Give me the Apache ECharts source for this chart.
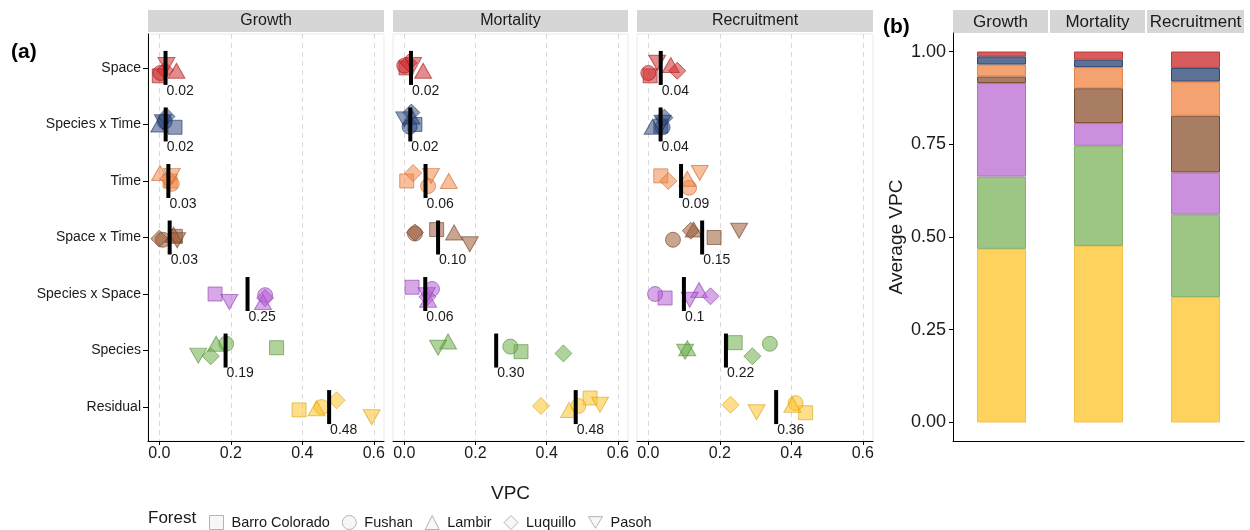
<!DOCTYPE html>
<html><head><meta charset="utf-8">
<script src="https://cdn.jsdelivr.net/npm/echarts@6/dist/echarts.min.js"></script>
<style>html,body{margin:0;padding:0;background:#fff}#c{width:1250px;height:530px}</style>
</head><body><div id="c"></div>
<script>
// ---------------- DATA ----------------
const components = ['Space', 'Species x Time', 'Time', 'Space x Time', 'Species x Space', 'Species', 'Residual'];
const responses = ['Growth', 'Mortality', 'Recruitment'];
const forests = ['Barro Colorado', 'Fushan', 'Lambir', 'Luquillo', 'Pasoh'];

// VPC per component (rows) and forest (columns: BCI, Fushan, Lambir, Luquillo, Pasoh)
const growthVPC = [
  [0.000, 0.003, 0.048, 0.016, 0.020],
  [0.044, 0.015, 0.000, 0.020, 0.010],
  [0.030, 0.035, 0.002, 0.025, 0.035],
  [0.045, 0.010, 0.040, 0.000, 0.050],
  [0.156, 0.296, 0.290, 0.296, 0.196],
  [0.328, 0.187, 0.159, 0.144, 0.109],
  [0.391, 0.454, 0.440, 0.496, 0.594]
];
const mortalityVPC = [
  [0.005, 0.000, 0.053, 0.012, 0.025],
  [0.030, 0.015, 0.020, 0.020, 0.000],
  [0.007, 0.067, 0.125, 0.025, 0.075],
  [0.091, 0.030, 0.140, 0.030, 0.184],
  [0.022, 0.078, 0.067, 0.065, 0.063],
  [0.328, 0.298, 0.123, 0.447, 0.095],
  [0.522, 0.489, 0.463, 0.384, 0.550]
];
const recruitmentVPC = [
  [0.005, 0.000, 0.063, 0.081, 0.025],
  [0.035, 0.040, 0.012, 0.045, 0.040],
  [0.035, 0.114, 0.109, 0.056, 0.144],
  [0.184, 0.069, 0.127, 0.119, 0.254],
  [0.047, 0.019, 0.142, 0.174, 0.116],
  [0.243, 0.340, 0.109, 0.291, 0.103],
  [0.440, 0.412, 0.403, 0.230, 0.303]
];
// vertical jitter of each point (category units)
const growthJitter = [
  [0.14, 0.09, 0.05, 0.04, -0.05],
  [0.05, -0.05, 0.00, -0.14, -0.04],
  [0.00, 0.05, -0.14, -0.04, -0.09],
  [-0.02, 0.04, -0.05, 0.02, 0.05],
  [0.00, 0.02, 0.14, 0.07, 0.14],
  [-0.05, -0.12, -0.12, 0.10, 0.09],
  [0.05, 0.00, 0.02, -0.12, 0.18]
];
const mortalityJitter = [
  [0.00, -0.04, 0.05, -0.09, -0.05],
  [0.00, 0.04, -0.14, -0.21, -0.09],
  [0.00, 0.09, 0.00, -0.14, -0.09],
  [-0.14, -0.07, -0.09, -0.09, 0.12],
  [-0.12, -0.09, 0.10, 0.05, 0.02],
  [0.02, -0.07, -0.16, 0.05, -0.05],
  [-0.16, -0.02, 0.05, -0.02, -0.04]
];
const recruitmentJitter = [
  [0.14, 0.09, -0.05, 0.05, -0.09],
  [0.03, 0.05, 0.04, -0.12, -0.03],
  [-0.09, 0.12, -0.04, 0.00, -0.14],
  [0.00, 0.04, -0.14, -0.12, -0.12],
  [0.07, 0.00, -0.07, 0.04, 0.10],
  [-0.14, -0.12, -0.04, 0.10, 0.02],
  [0.10, -0.07, -0.04, -0.04, 0.09]
];
// printed mean labels
const growthLabels = ['0.02', '0.02', '0.03', '0.03', '0.25', '0.19', '0.48'];
const mortalityLabels = ['0.02', '0.02', '0.06', '0.10', '0.06', '0.30', '0.48'];
const recruitmentLabels = ['0.04', '0.04', '0.09', '0.15', '0.1', '0.22', '0.36'];

// panel (b): average VPC per component
const avgGrowth = [0.013, 0.022, 0.032, 0.018, 0.252, 0.195, 0.468];
const avgMortality = [0.022, 0.020, 0.057, 0.094, 0.061, 0.270, 0.476];
const avgRecruitment = [0.044, 0.037, 0.092, 0.153, 0.113, 0.223, 0.338];

const xTicks = [0, 0.2, 0.4, 0.6];
const yTicksB = [0, 0.25, 0.5, 0.75, 1];

// ---------------- STYLE ----------------
const FONT = '"Liberation Sans", Arial, Helvetica, sans-serif';
const TXT = '#1a1a1a';
const pointColors = ['#d02c2c', '#2d4a80', '#f08a4b', '#9a5a36', '#b660d6', '#6fae4c', '#fcc22b'];
const pointBorders = ['#a01818', '#1c3160', '#c86428', '#6e3c20', '#8a3aae', '#4e8a30', '#d8a010'];
const barColors = ['#d95b5b', '#5d7096', '#f4a26f', '#a97d64', '#cc8fde', '#9dc584', '#fed35d'];
const barBorders = ['#b83a3a', '#2f4470', '#e0844c', '#7a4a2c', '#b070c8', '#84b06a', '#f0c24a'];
const shapes = [
  { symbol: 'rect', size: 14, rot: 0 },
  { symbol: 'circle', size: 15, rot: 0 },
  { symbol: 'triangle', size: [17, 15], rot: 0 },
  { symbol: 'diamond', size: 17, rot: 0 },
  { symbol: 'triangle', size: [17, 15], rot: 180 }
];
const legendIcons = ['path://M0,0H10V10H0Z', 'circle', 'triangle', 'diamond', 'path://M0,0L12,0L6,10Z'];

function rgba(hex, a) {
  const n = parseInt(hex.slice(1), 16);
  return 'rgba(' + (n >> 16 & 255) + ',' + (n >> 8 & 255) + ',' + (n & 255) + ',' + a + ')';
}
function mean(arr) { return arr.reduce((s, v) => s + v, 0) / arr.length; }

const panelVals = [growthVPC, mortalityVPC, recruitmentVPC];
const panelJit = [growthJitter, mortalityJitter, recruitmentJitter];
const panelLabels = [growthLabels, mortalityLabels, recruitmentLabels];
const panelLeft = [148, 393, 637];
const panelWidth = [236, 235, 236];
const GTOP = 34, GH = 407;

const grids = [], xAxes = [], yAxes = [], series = [], graphics = [];

for (let p = 0; p < 3; p++) {
  grids.push({ left: panelLeft[p], top: GTOP, width: panelWidth[p], height: GH, show: true,
    borderColor: '#ebebeb', borderWidth: 1, backgroundColor: 'transparent', containLabel: false, outerBoundsMode: 'none' });
  xAxes.push({
    type: 'value', gridIndex: p, min: -0.0316, max: 0.6285,
    axisLine: { show: true, onZero: false, lineStyle: { color: '#000', width: 1 } },
    axisTick: { show: true, length: 4, customValues: xTicks, lineStyle: { color: '#000' } },
    axisLabel: { show: true, customValues: xTicks, formatter: v => v.toFixed(1), fontSize: 16, color: TXT, margin: 5, fontFamily: FONT },
    splitLine: { show: true, lineStyle: { color: '#d9d9d9', type: [5, 4], width: 1 } },
    name: p === 1 ? 'VPC' : '', nameLocation: 'middle', nameGap: 43,
    nameTextStyle: { fontSize: 19, color: TXT, fontFamily: FONT }
  });
  yAxes.push({
    type: 'value', gridIndex: p, inverse: true, min: -0.6, max: 6.6,
    axisLine: { show: p === 0, onZero: false, lineStyle: { color: '#000', width: 1 } },
    axisTick: { show: p === 0, length: 5, customValues: [0, 1, 2, 3, 4, 5, 6], lineStyle: { color: '#000' } },
    axisLabel: { show: p === 0, customValues: [0, 1, 2, 3, 4, 5, 6], formatter: v => components[Math.round(v)] || '',
      fontSize: 14, color: TXT, margin: 7, fontFamily: FONT },
    splitLine: { show: false }
  });
  // points
  for (let f = 0; f < 5; f++) {
    const sh = shapes[f];
    series.push({
      type: 'scatter', name: forests[f], xAxisIndex: p, yAxisIndex: p,
      symbol: sh.symbol, symbolSize: sh.size, symbolRotate: sh.rot, z: 2, silent: true,
      data: components.map((c, i) => ({
        value: [panelVals[p][i][f], i + panelJit[p][i][f]],
        itemStyle: { color: rgba(pointColors[i], 0.55), borderColor: rgba(pointBorders[i], 0.6), borderWidth: 1, opacity: 1 }
      }))
    });
  }
  // mean bars + labels
  series.push({
    type: 'scatter', xAxisIndex: p, yAxisIndex: p, symbol: 'rect', symbolSize: [4, 34], z: 5, silent: true,
    itemStyle: { color: '#000', opacity: 1 },
    label: { show: true, position: [3, 33], align: 'left', verticalAlign: 'top', fontSize: 14, color: TXT, fontFamily: FONT },
    data: components.map((c, i) => ({ value: [mean(panelVals[p][i]), i], label: { formatter: panelLabels[p][i] } }))
  });
  // strip
  graphics.push({ type: 'rect', shape: { x: panelLeft[p], y: 10, width: panelWidth[p], height: 22 }, style: { fill: '#d6d6d6' }, silent: true });
  graphics.push({ type: 'text', x: panelLeft[p] + panelWidth[p] / 2, y: 21,
    style: { text: responses[p], fontSize: 16, fill: TXT, align: 'center', verticalAlign: 'middle', fontFamily: FONT }, silent: true });
}

// panel (b)
grids.push({ left: 953, top: 33, width: 291, height: 408, containLabel: false, outerBoundsMode: 'none' });
xAxes.push({ type: 'category', gridIndex: 3, data: responses,
  axisLine: { show: true, onZero: false, lineStyle: { color: '#000' } }, axisTick: { show: false }, axisLabel: { show: false }, splitLine: { show: false } });
yAxes.push({ type: 'value', gridIndex: 3, min: -0.05, max: 1.05,
  axisLine: { show: true, onZero: false, lineStyle: { color: '#000' } },
  axisTick: { show: true, length: 4, customValues: yTicksB, lineStyle: { color: '#000' } },
  axisLabel: { show: true, customValues: yTicksB, formatter: v => v.toFixed(2), fontSize: 18, color: TXT, margin: 7, fontFamily: FONT },
  splitLine: { show: false },
  name: 'Average VPC', nameLocation: 'middle', nameRotate: 90, nameGap: 47,
  nameTextStyle: { fontSize: 19, color: TXT, fontFamily: FONT } });
const avgByResponse = [avgGrowth, avgMortality, avgRecruitment];
for (let i = components.length - 1; i >= 0; i--) {
  series.push({ type: 'bar', name: components[i], xAxisIndex: 3, yAxisIndex: 3, stack: 'avg', barWidth: 49, silent: true,
    itemStyle: { color: barColors[i], borderColor: barBorders[i], borderWidth: 1 },
    data: avgByResponse.map(a => a[i]) });
}
const bStrips = [[953, 95], [1050, 95], [1147, 97]];
bStrips.forEach((s, k) => {
  graphics.push({ type: 'rect', shape: { x: s[0], y: 10, width: s[1], height: 23 }, style: { fill: '#d6d6d6' }, silent: true });
  graphics.push({ type: 'text', x: s[0] + s[1] / 2, y: 22,
    style: { text: responses[k], fontSize: 17, fill: TXT, align: 'center', verticalAlign: 'middle', fontFamily: FONT }, silent: true });
});
// panel tags and legend title
graphics.push({ type: 'text', x: 11, y: 52, style: { text: '(a)', fontSize: 21, fontWeight: 'bold', fill: '#000', verticalAlign: 'middle', fontFamily: FONT } });
graphics.push({ type: 'text', x: 883, y: 27, style: { text: '(b)', fontSize: 21, fontWeight: 'bold', fill: '#000', verticalAlign: 'middle', fontFamily: FONT } });
graphics.push({ type: 'text', x: 148, y: 518, style: { text: 'Forest', fontSize: 17, fill: TXT, verticalAlign: 'middle', fontFamily: FONT } });

const option = {
  animation: false,
  textStyle: { fontFamily: FONT },
  grid: grids, xAxis: xAxes, yAxis: yAxes, series: series,
  graphic: graphics,
  legend: {
    left: 204, top: 510, orient: 'horizontal', selectedMode: false,
    itemWidth: 14, itemHeight: 14, itemGap: 12, symbolKeepAspect: true,
    textStyle: { fontSize: 14.5, color: TXT, fontFamily: FONT, padding: [0, 0, 0, 3] },
    data: forests.map((f, k) => ({ name: f, icon: legendIcons[k],
      itemStyle: { color: '#f7f7f7', borderColor: '#b3b3b3', borderWidth: 1, opacity: 1 } }))
  }
};
const chart = echarts.init(document.getElementById('c'), null, { renderer: 'canvas' });
chart.setOption(option);
</script></body></html>
